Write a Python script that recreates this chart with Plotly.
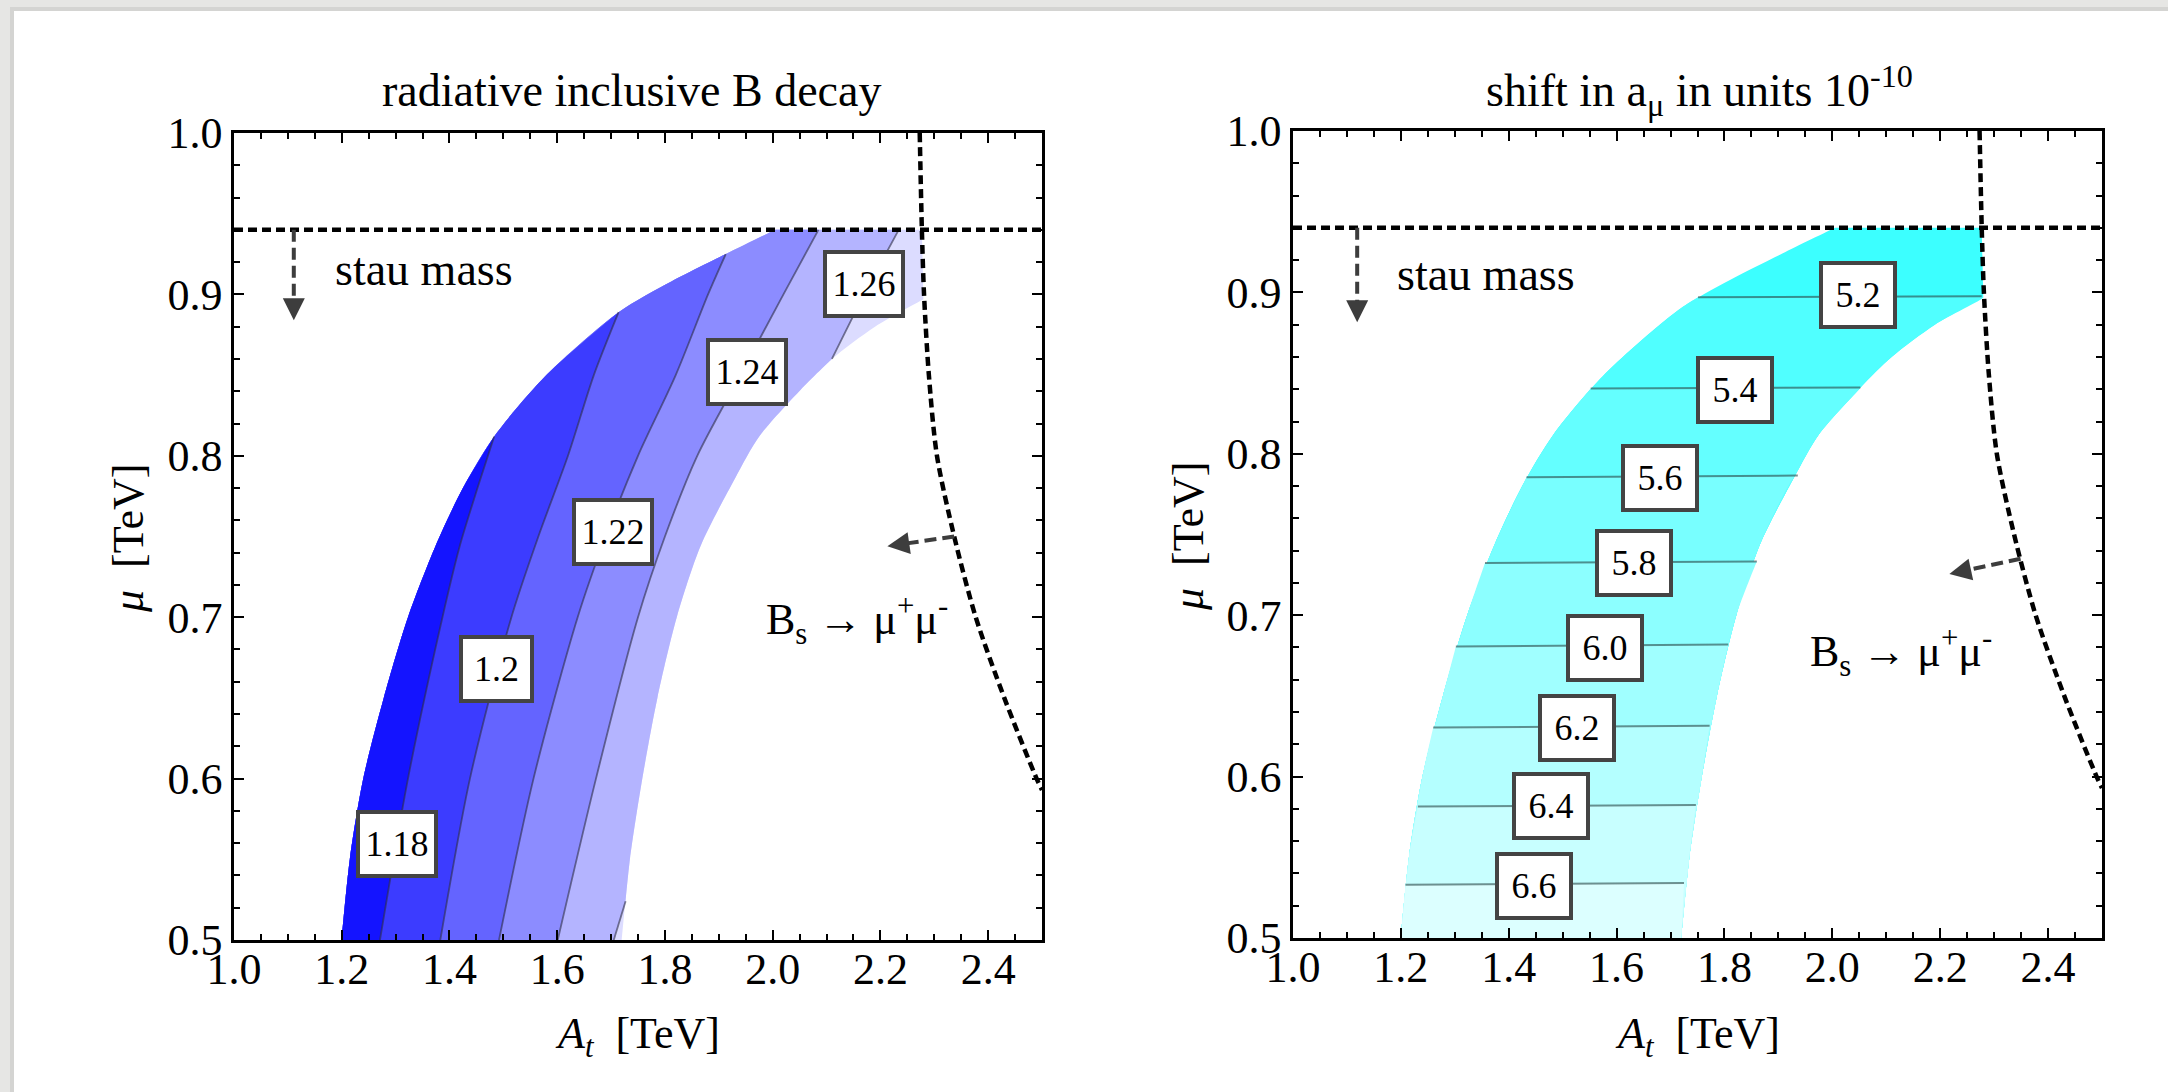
import plotly.graph_objects as go

# ---------------- data ----------------
# allowed region (same in both panels): left/upper edge and right/lower edge
edge_left_mu = [0.50, 0.55, 0.60, 0.65, 0.70, 0.744, 0.78, 0.812, 0.85, 0.889, 0.908, 0.925, 0.94]
edge_left_x = [1.200, 1.215, 1.240, 1.278, 1.323, 1.374, 1.425, 1.483, 1.580, 1.714, 1.812, 1.913, 2.005]
edge_right_mu = [0.50, 0.55, 0.60, 0.65, 0.70, 0.744, 0.786, 0.812, 0.841, 0.86, 0.88, 0.897]
edge_right_x = [1.720, 1.735, 1.758, 1.786, 1.822, 1.866, 1.930, 1.975, 2.052, 2.11, 2.19, 2.28]

# constraint lines
stau_mu = 0.94
bs_x = [2.273, 2.277, 2.281, 2.290, 2.305, 2.337, 2.377, 2.430, 2.490, 2.500]
bs_mu = [1.000, 0.940, 0.900, 0.850, 0.800, 0.750, 0.700, 0.650, 0.600, 0.593]

# arrows: [start, tip]
stau_arrow_left_x = [1.111, 1.111]
stau_arrow_left_mu = [0.940, 0.884]
stau_arrow_right_x = [1.119, 1.119]
stau_arrow_right_mu = [0.940, 0.8815]
bs_arrow_left_x = [2.337, 2.213]
bs_arrow_left_mu = [0.750, 0.744]
bs_arrow_right_x = [2.349, 2.217]
bs_arrow_right_mu = [0.735, 0.7255]

# left panel: radiative inclusive B decay contours (1.18, 1.20, 1.22, 1.24)
bsg_line_x = [
    [1.271, 1.323, 1.387, 1.419, 1.452, 1.483],
    [1.383, 1.438, 1.515, 1.565, 1.620, 1.668, 1.714],
    [1.492, 1.556, 1.638, 1.690, 1.750, 1.820, 1.880, 1.913],
    [1.601, 1.672, 1.750, 1.800, 1.860, 1.940, 2.020, 2.085],
]
bsg_line_mu = [
    [0.50, 0.60, 0.70, 0.744, 0.78, 0.812],
    [0.50, 0.60, 0.70, 0.75, 0.80, 0.85, 0.889],
    [0.50, 0.60, 0.70, 0.75, 0.80, 0.85, 0.90, 0.925],
    [0.50, 0.60, 0.70, 0.75, 0.80, 0.85, 0.90, 0.94],
]
# 1.26 contour: two pieces
bsg_126_low_x = [1.705, 1.727]
bsg_126_low_mu = [0.50, 0.524]
bsg_126_up_x = [2.11, 2.17, 2.234]
bsg_126_up_mu = [0.86, 0.90, 0.94]
bsg_label_text = ["1.18", "1.2", "1.22", "1.24", "1.26"]
bsg_label_x = [1.302, 1.488, 1.703, 1.953, 2.169]
bsg_label_mu = [0.5595, 0.668, 0.753, 0.852, 0.9064]

# right panel: shift in a_mu contours (left end / right end of each line)
amu_labels = ["5.2", "5.4", "5.6", "5.8", "6.0", "6.2", "6.4", "6.6"]
amu_xl = [1.751, 1.552, 1.433, 1.356, 1.302, 1.260, 1.2316, 1.2086]
amu_ml = [0.897, 0.8405, 0.7855, 0.7324, 0.6806, 0.6304, 0.5815, 0.533]
amu_xr = [2.277, 2.052, 1.936, 1.860, 1.807, 1.7725, 1.747, 1.725]
amu_mr = [0.8976, 0.8411, 0.7865, 0.7333, 0.6818, 0.6315, 0.5824, 0.534]
amu_label_x = [2.048, 1.819, 1.680, 1.632, 1.579, 1.526, 1.478, 1.446]
amu_label_mu = [0.8987, 0.8394, 0.7849, 0.7325, 0.6797, 0.630, 0.582, 0.5324]

# ---------------- styling ----------------
FONT = "Liberation Serif, Times New Roman, serif"
W, H = 2168, 1092
blues = ["#dcdcff", "#b4b4ff", "#8c8cff", "#6464ff", "#3c3cff", "#1414ff"]
cyans = ["#3cffff", "#50ffff", "#64ffff", "#78ffff", "#8cffff", "#a0ffff", "#b4ffff", "#c8ffff", "#dcffff"]
PX_PER_X = 539.0    # screen pixels per TeV on the x axes
PX_PER_MU = 1614.0  # screen pixels per TeV on the y axes

fig = go.Figure()


def pts(xs, ms):
    return list(zip(xs, ms))


def poly(segments, color, xa, ya):
    """Closed outline made of smooth pieces; junctions are kept sharp."""
    allp = []
    for seg in segments:
        if not seg:
            continue
        allp += [seg[0]] + list(seg) + [seg[-1]]
    fig.add_trace(go.Scatter(x=[p[0] for p in allp], y=[p[1] for p in allp], mode="lines",
                             fill="toself", fillcolor=color,
                             line=dict(width=0, color=color, shape="spline", smoothing=0.8),
                             xaxis=xa, yaxis=ya, hoverinfo="skip", showlegend=False))


def line(xs, ms, color, width, xa, ya, dash=None, spline=True):
    fig.add_trace(go.Scatter(x=xs, y=ms, mode="lines",
                             line=dict(width=width, color=color, dash=dash,
                                       shape="spline" if spline else "linear", smoothing=0.8),
                             xaxis=xa, yaxis=ya, hoverinfo="skip", showlegend=False))


L = pts(edge_left_x, edge_left_mu)
R = pts(edge_right_x, edge_right_mu)
top_left = L[-1]
top_right = (bs_x[1], bs_mu[1])

region = [L, [top_left, top_right], [top_right, R[-1]], R[::-1]]

# ---- left panel ----
poly(region, blues[0], "x", "y")
up = pts(bsg_126_up_x, bsg_126_up_mu)
low = pts(bsg_126_low_x, bsg_126_low_mu)
r_mid = [up[0]] + [p for p in R[::-1] if low[-1][1] < p[1] < up[0][1]] + [low[-1]]
poly([L, [top_left, up[-1]], up[::-1], r_mid, low[::-1]], blues[1], "x", "y")
for k in range(3, -1, -1):
    ln = pts(bsg_line_x[k], bsg_line_mu[k])
    tx, tm = ln[-1]
    if tm >= stau_mu - 1e-9:
        segs = [L, [top_left, ln[-1]], ln[::-1]]
    else:
        segs = [[p for p in L if p[1] < tm] + [ln[-1]], ln[::-1]]
    poly(segs, blues[5 - k], "x", "y")

LC = "rgba(45,45,70,0.6)"
for k in range(4):
    line(bsg_line_x[k], bsg_line_mu[k], LC, 1.8, "x", "y")
line(bsg_126_low_x, bsg_126_low_mu, LC, 1.8, "x", "y")
line(bsg_126_up_x, bsg_126_up_mu, LC, 1.8, "x", "y")

# ---- right panel ----
poly(region, cyans[0], "x2", "y2")
for k in range(len(amu_labels)):
    a = (amu_xl[k], amu_ml[k])
    b = (amu_xr[k], amu_mr[k])
    rseg = [b] + [p for p in R[::-1] if p[1] < amu_mr[k]]
    lseg = [p for p in L if p[1] < amu_ml[k]] + [a]
    poly([[a, b], rseg, lseg], cyans[k + 1], "x2", "y2")
for k in range(len(amu_labels)):
    line([amu_xl[k], amu_xr[k]], [amu_ml[k], amu_mr[k]], "rgba(40,70,70,0.6)", 2, "x2", "y2", spline=False)

# ---- constraint lines and arrows ----
ARROW = "#3d3d3d"
annotations = []
for xa, ya, sx, sm, bx, bm in [("x", "y", stau_arrow_left_x, stau_arrow_left_mu, bs_arrow_left_x, bs_arrow_left_mu),
                               ("x2", "y2", stau_arrow_right_x, stau_arrow_right_mu, bs_arrow_right_x, bs_arrow_right_mu)]:
    line([1.0, 2.5], [stau_mu, stau_mu], "black", 4.5, xa, ya, dash="9px,5px", spline=False)
    line(bs_x, bs_mu, "black", 4.5, xa, ya, dash="9px,5px")
    for ax_, am_ in [(sx, sm), (bx, bm)]:
        f = 0.8
        line([ax_[0], ax_[0] + f * (ax_[1] - ax_[0])], [am_[0], am_[0] + f * (am_[1] - am_[0])],
             ARROW, 4, xa, ya, dash="12px,6px", spline=False)
        dxp = (ax_[1] - ax_[0]) * PX_PER_X
        dyp = -(am_[1] - am_[0]) * PX_PER_MU
        n = (dxp ** 2 + dyp ** 2) ** 0.5
        annotations.append(dict(x=ax_[1], y=am_[1], xref=xa, yref=ya, text="", showarrow=True,
                                arrowhead=2, arrowsize=1.1, arrowwidth=4, arrowcolor=ARROW,
                                ax=-dxp / n * 18, ay=-dyp / n * 18, standoff=0))

# ---- contour labels ----
for t, x, m in zip(bsg_label_text, bsg_label_x, bsg_label_mu):
    annotations.append(dict(x=x, y=m, xref="x", yref="y", text=t, showarrow=False,
                            font=dict(family=FONT, size=36, color="black"),
                            bgcolor="white", bordercolor="#444444", borderwidth=4, borderpad=2,
                            width=63 if len(t) == 3 else 70, height=56))
for t, x, m in zip(amu_labels, amu_label_x, amu_label_mu):
    annotations.append(dict(x=x, y=m, xref="x2", yref="y2", text=t, showarrow=False,
                            font=dict(family=FONT, size=36, color="black"),
                            bgcolor="white", bordercolor="#444444", borderwidth=4, borderpad=2,
                            width=66, height=56))

TF = dict(family=FONT, size=44, color="black")
TT = dict(family=FONT, size=46, color="black")
# texts inside the panels
annotations += [
    dict(x=1.183, y=0.9157, xref="x", yref="y", text="stau mass", showarrow=False,
         xanchor="left", yanchor="middle", font=TT),
    dict(x=1.189, y=0.9112, xref="x2", yref="y2", text="stau mass", showarrow=False,
         xanchor="left", yanchor="middle", font=TT),
    dict(x=1.984, y=0.6983, xref="x", yref="y", text="B<sub>s</sub> → μ<sup>+</sup>μ<sup>-</sup>",
         showarrow=False, xanchor="left", yanchor="middle", font=TF),
    dict(x=1.955, y=0.6771, xref="x2", yref="y2", text="B<sub>s</sub> → μ<sup>+</sup>μ<sup>-</sup>",
         showarrow=False, xanchor="left", yanchor="middle", font=TF),
]
# titles and axis labels
for d in [
    dict(x=631 / W, y=1 - 90 / H, text="radiative inclusive B decay", font=TT),
    dict(x=1699 / W, y=1 - 90 / H, text="shift in a<sub>μ</sub> in units 10<sup>-10</sup>", font=TT),
    dict(x=637 / W, y=1 - 1036 / H, text="<i>A</i><sub><i>t</i></sub>  [TeV]", font=TF),
    dict(x=1697 / W, y=1 - 1036 / H, text="<i>A</i><sub><i>t</i></sub>  [TeV]", font=TF),
    dict(x=128 / W, y=1 - 538 / H, text="<i>μ</i>  [TeV]", textangle=-90, font=TF),
    dict(x=1188 / W, y=1 - 536 / H, text="<i>μ</i>  [TeV]", textangle=-90, font=TF),
]:
    d.update(xref="paper", yref="paper", showarrow=False, xanchor="center", yanchor="middle")
    annotations.append(d)

axis_common = dict(showline=True, linewidth=2.5, linecolor="black", mirror="allticks",
                   ticks="inside", ticklen=10, tickwidth=2, tickcolor="black",
                   showgrid=False, zeroline=False, tickfont=TF, tickformat=".1f",
                   automargin=False, fixedrange=True)
xcommon = dict(axis_common, range=[1.0, 2.5], tick0=1.0, dtick=0.2, ticklabelstandoff=-12,
               minor=dict(ticks="inside", ticklen=6, tickwidth=1.8, tickcolor="black", dtick=0.05, tick0=1.0))
ycommon = dict(axis_common, range=[0.5, 1.0], tick0=0.5, dtick=0.1,
               minor=dict(ticks="inside", ticklen=6, tickwidth=1.8, tickcolor="black", dtick=0.02, tick0=0.5))

fig.update_layout(
    width=W, height=H, autosize=False,
    margin=dict(l=0, r=0, t=0, b=0),
    paper_bgcolor="#e6e6e4", plot_bgcolor="white",
    xaxis=dict(xcommon, domain=[234 / W, 1042 / W], anchor="y"),
    yaxis=dict(ycommon, domain=[1 - 940 / H, 1 - 133 / H], anchor="x"),
    xaxis2=dict(xcommon, domain=[1293 / W, 2102 / W], anchor="y2"),
    yaxis2=dict(ycommon, domain=[1 - 938 / H, 1 - 131 / H], anchor="x2"),
    annotations=annotations,
    shapes=[
        dict(type="rect", xref="paper", yref="paper", x0=10 / W, x1=1.02, y0=-0.02, y1=1 - 7 / H,
             fillcolor="#d4d4d2", line=dict(width=0), layer="below"),
        dict(type="rect", xref="paper", yref="paper", x0=14 / W, x1=1.02, y0=-0.02, y1=1 - 11 / H,
             fillcolor="white", line=dict(width=0), layer="below"),
    ],
    showlegend=False,
)

fig.write_html("out.html")
